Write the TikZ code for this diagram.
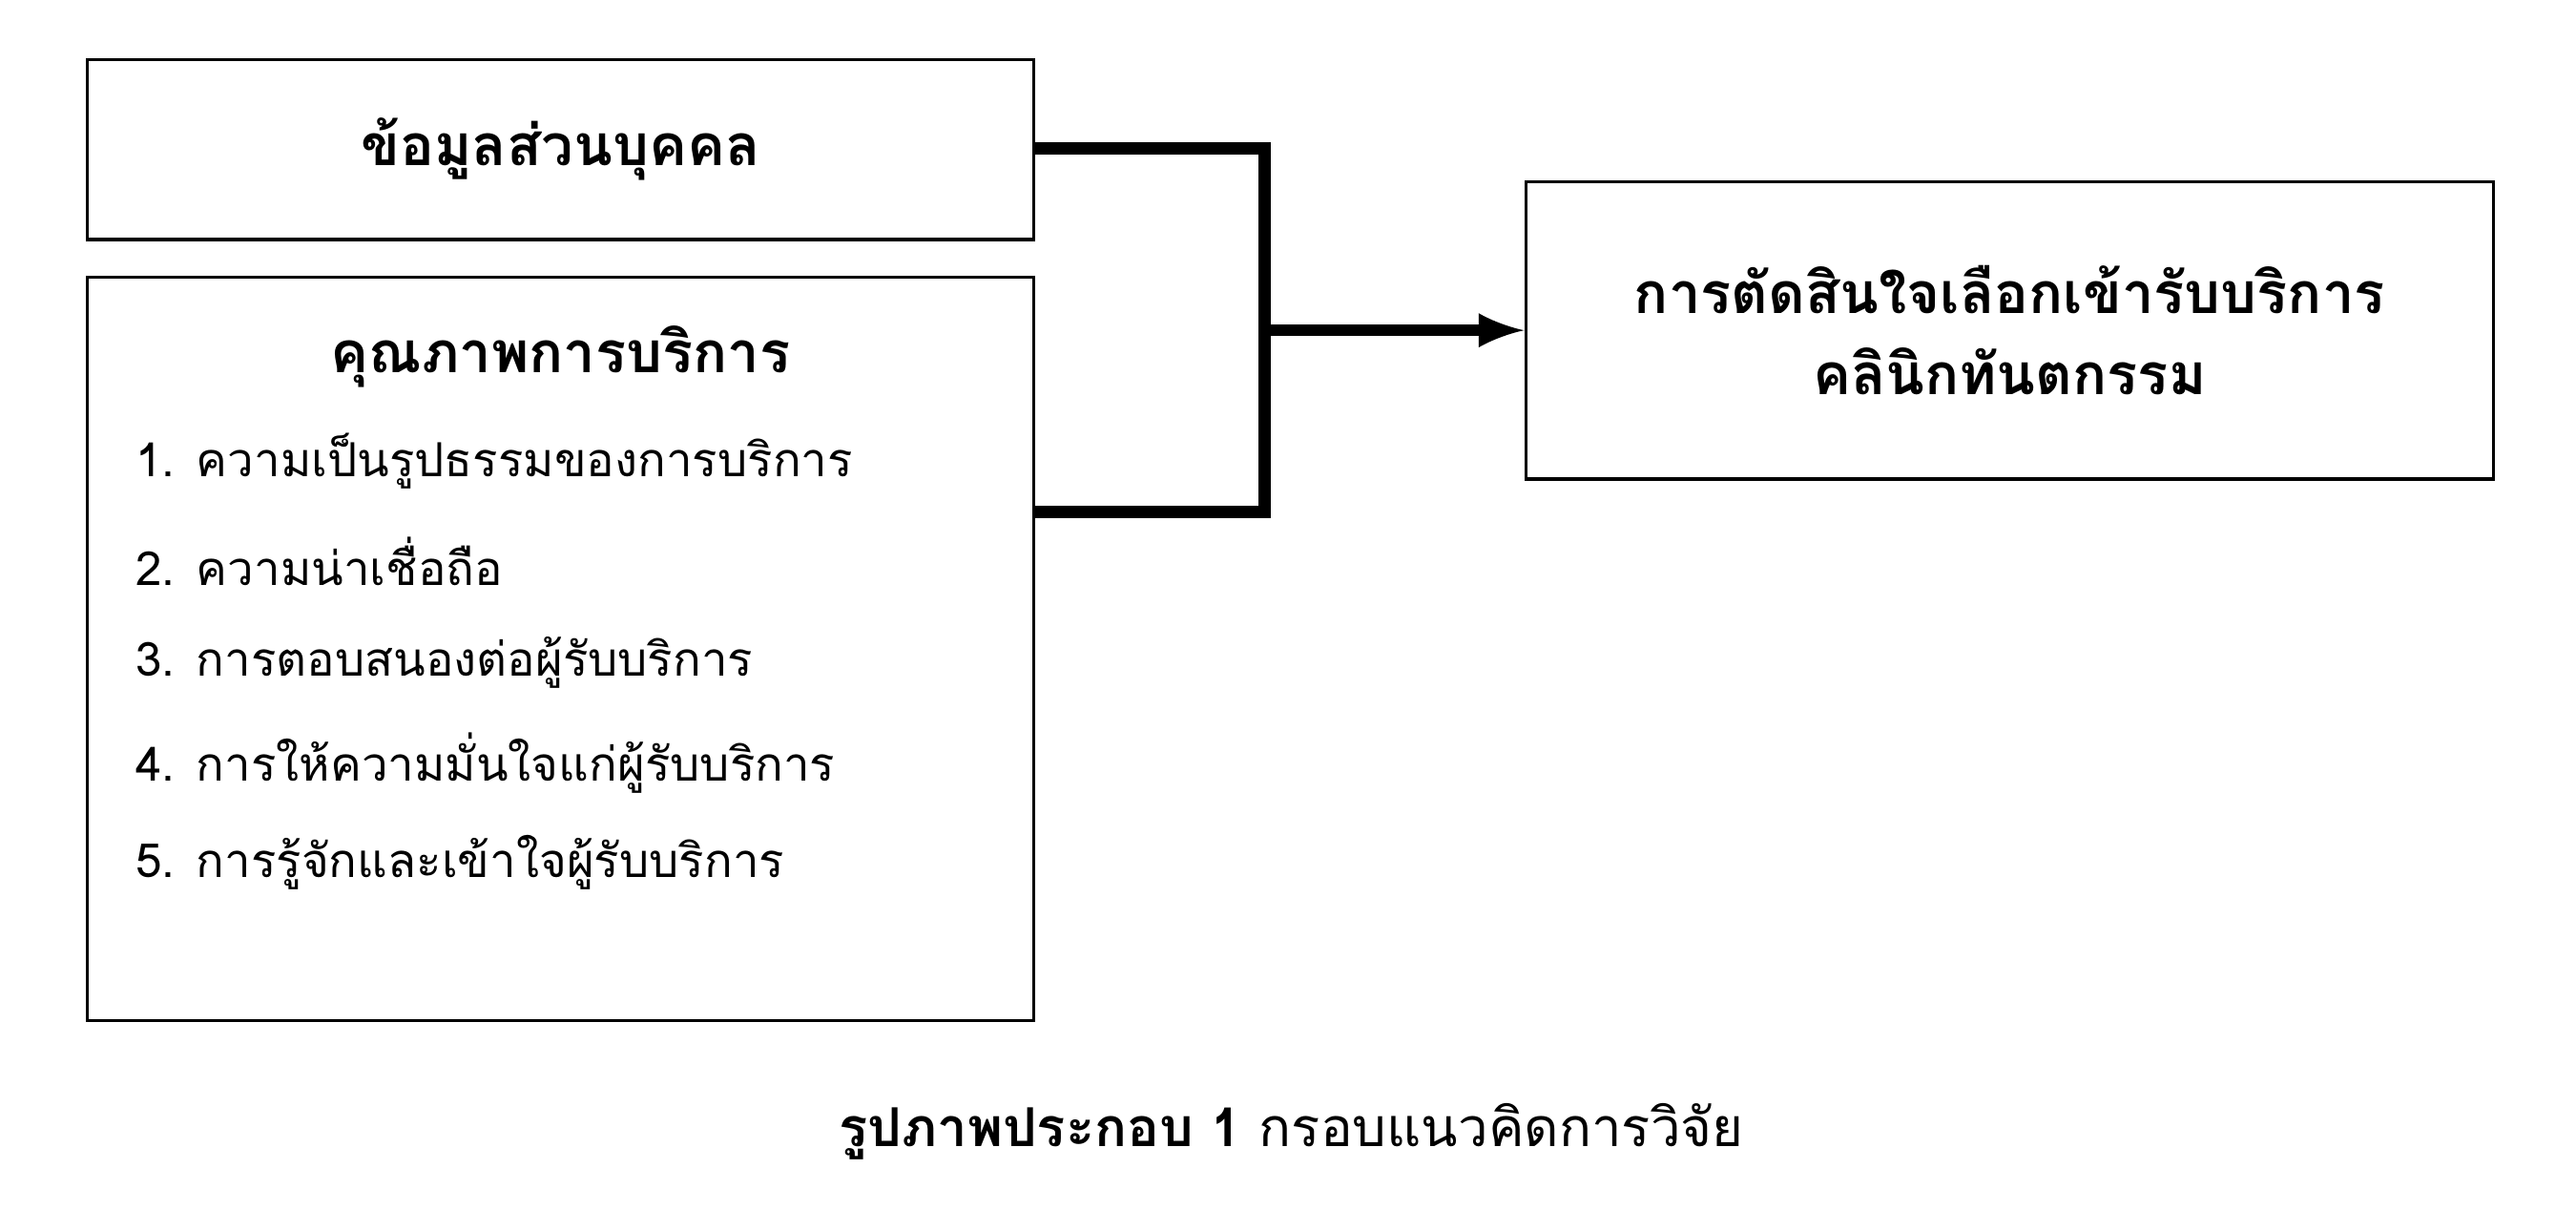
\documentclass[tikz,border=0pt]{standalone}
\usepackage{fontspec}
\newfontfamily\thaifont[Script=Thai]{Loma}
\usetikzlibrary{positioning}
\tikzset{box/.style={draw, line width=0.9pt, rectangle, inner sep=0pt},
  link/.style={line width=3.6pt, line join=miter},
  item/.style={anchor=west, inner sep=0pt, font=\thaifont\fontsize{14}{16}\selectfont}}
\begin{document}
\begin{tikzpicture}[x=0.01731cm, y=-0.01731cm]
    \useasboundingbox (0,0) rectangle (1560,745);
    \node [box, minimum width=573*0.01731cm, minimum height=109*0.01731cm] (personal) at (339.5,90.5) {};
    \node [font=\thaifont\bfseries\fontsize{17}{20}\selectfont] at (personal) {ข้อมูลส่วนบุคคล};
    \node [box, minimum width=573*0.01731cm, minimum height=450*0.01731cm] (quality) at (339.5,393) {};
    \node [font=\thaifont\bfseries\fontsize{17}{20}\selectfont] at (339.5,216) {คุณภาพการบริการ};
    \node [item] at (82,279) {1. ความเป็นรูปธรรมของการบริการ};
    \node [item] at (82,340) {2. ความน่าเชื่อถือ};
    \node [item] at (82,401) {3. การตอบสนองต่อผู้รับบริการ};
    \node [item] at (82,462) {4. การให้ความมั่นใจแก่ผู้รับบริการ};
    \node [item] at (82,522) {5. การรู้จักและเข้าใจผู้รับบริการ};
    \node [box, minimum width=586*0.01731cm, minimum height=180*0.01731cm] (decision) at (1217,200) {};
    \node [align=center, font=\thaifont\bfseries\fontsize{17}{24}\selectfont] at (decision) {การตัดสินใจเลือกเข้ารับบริการ\\คลินิกทันตกรรม};
    \coordinate (join) at (766,200);
    \draw [link] (personal.east |- 0,90) -| (join) |- (quality.east |- 0,310);
    \draw [link, -latex] (join) -- (decision.west);
    \node [font=\thaifont\fontsize{16}{18}\selectfont] (caption) at (782,685) {\textbf{รูปภาพประกอบ 1} กรอบแนวคิดการวิจัย};
\end{tikzpicture}
\end{document}
